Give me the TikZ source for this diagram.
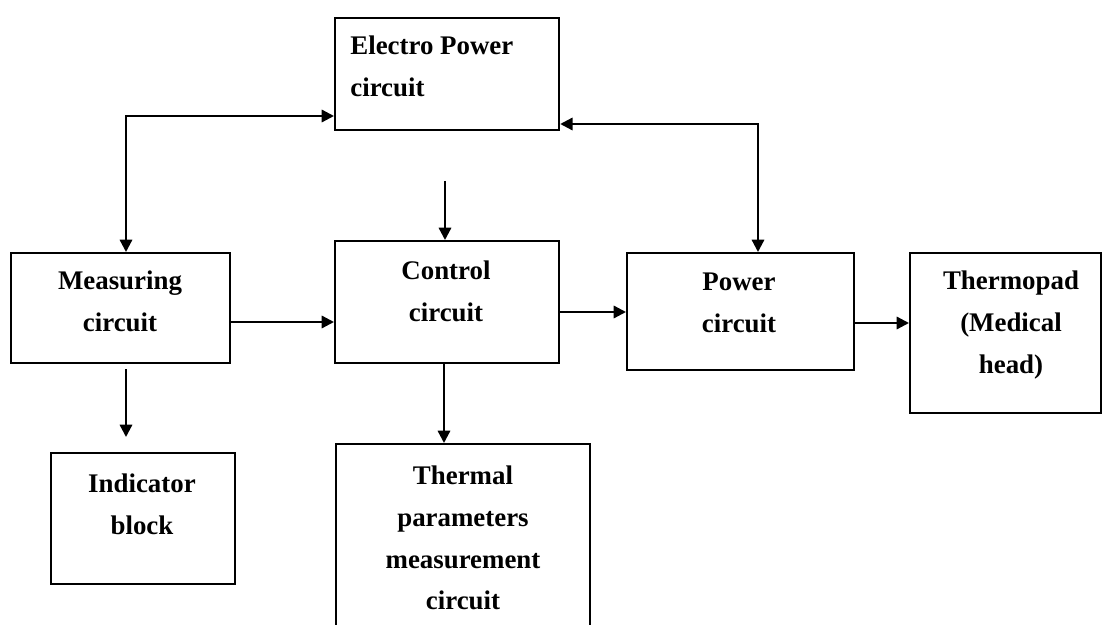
\documentclass[tikz,border=0pt]{standalone}
\usepackage{fontspec}
\setmainfont{Liberation Serif}
\usetikzlibrary{arrows.meta,calc}
\begin{document}
\begin{tikzpicture}[x=0.02cm,y=-0.02cm,
  box/.style={draw,line width=1.3pt,inner sep=0pt,anchor=north west},
  lbl/.style={font=\bfseries\fontsize{15.3}{23.8}\selectfont,align=center,inner sep=0pt},
  arr/.style={line width=1.3pt,-{Triangle[length=7pt,width=7pt]}},
  darr/.style={line width=1.3pt,{Triangle[length=7pt,width=7pt]}-{Triangle[length=7pt,width=7pt]}}]
\useasboundingbox (0,0) rectangle (1103,625);
% boxes
\node[box,minimum width=4.48cm,minimum height=2.24cm] (ep) at (334,17) {};
\node[box,minimum width=4.38cm,minimum height=2.2cm] (meas) at (10,252) {};
\node[box,minimum width=4.48cm,minimum height=2.44cm] (ctrl) at (334,240) {};
\node[box,minimum width=4.54cm,minimum height=2.34cm] (pow) at (626,252) {};
\node[box,minimum width=3.82cm,minimum height=3.2cm] (tp) at (909,252) {};
\node[box,minimum width=3.68cm,minimum height=2.62cm] (ind) at (50,452) {};
\node[box,minimum width=5.08cm,minimum height=3.94cm] (therm) at (335,443) {};
% labels
\node[lbl,align=left,anchor=west] (ept) at (350,66) {Electro Power\\circuit};
\node[lbl] (meast) at (120,301) {Measuring\\circuit};
\node[lbl] (ctrlt) at (446,291) {Control\\circuit};
\node[lbl] (powt) at (739,303) {Power\\circuit};
\node[lbl] (tpt) at (1011,325) {Thermopad\\(Medical\\head)};
\node[lbl] (indt) at (142,504) {Indicator\\block};
\node[lbl] (thermt) at (463,538) {Thermal\\parameters\\measurement\\circuit};
% connectors
\coordinate (c1) at (126,116);
\draw[darr] (c1 |- meas.north) -- (c1) -- (c1 -| ep.west);
\coordinate (c2) at (758,124);
\draw[darr] (c2 -| ep.east) -- (c2) -- (c2 |- pow.north);
\coordinate (c3) at (445,181);
\draw[arr] (c3) -- (c3 |- ctrl.north);
\coordinate (c4) at (0,322);
\draw[arr] (meas.east |- c4) -- (ctrl.west |- c4);
\coordinate (c5) at (0,312);
\draw[arr] (ctrl.east |- c5) -- (pow.west |- c5);
\coordinate (c6) at (0,323);
\draw[arr] (pow.east |- c6) -- (tp.west |- c6);
\coordinate (c7) at (126,0);
\draw[arr,shorten <=0.1cm,shorten >=0.3cm] (c7 |- meas.south) -- (c7 |- ind.north);
\coordinate (c8) at (444,0);
\draw[arr] (c8 |- ctrl.south) -- (c8 |- therm.north);
\end{tikzpicture}
\end{document}
